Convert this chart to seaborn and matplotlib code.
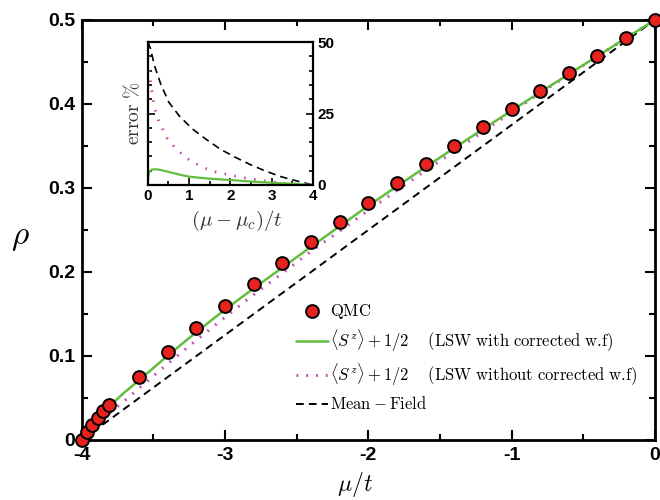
import matplotlib
matplotlib.use("Agg")
import matplotlib.pyplot as plt
import seaborn as sns
from matplotlib.ticker import MultipleLocator

# QMC data (mu/t, rho)
qmc_mu = [-4.0, -3.965, -3.93, -3.89, -3.85, -3.81, -3.6, -3.4, -3.2, -3.0,
          -2.8, -2.6, -2.4, -2.2, -2.0, -1.8, -1.6, -1.4, -1.2, -1.0,
          -0.8, -0.6, -0.4, -0.2, 0.0]
qmc_rho = [0.0, 0.0099, 0.018, 0.026, 0.034, 0.042, 0.0746, 0.105, 0.1333, 0.1599,
           0.1857, 0.2103, 0.2353, 0.2591, 0.2825, 0.3056, 0.3282, 0.350, 0.3722, 0.394,
           0.4158, 0.4365, 0.4575, 0.479, 0.5]

# LSW curves
lsw_mu = [-4.0, -3.98, -3.95, -3.9, -3.85, -3.8, -3.7, -3.6, -3.4, -3.2, -3.0,
          -2.8, -2.6, -2.4, -2.2, -2.0, -1.8, -1.6, -1.4, -1.2, -1.0,
          -0.8, -0.6, -0.4, -0.2, 0.0]
lsw_corr = [0.0, 0.0053, 0.0125, 0.0225, 0.0325, 0.0415, 0.057, 0.0712, 0.1005, 0.1285, 0.1553,
            0.1805, 0.2052, 0.230, 0.2545, 0.2788, 0.302, 0.325, 0.3475, 0.370, 0.392,
            0.414, 0.4355, 0.457, 0.4785, 0.5]
lsw_nocorr = [0.0, 0.0033, 0.0079, 0.017, 0.025, 0.0332, 0.047, 0.0616, 0.0908, 0.1189, 0.1462,
              0.1731, 0.1985, 0.2245, 0.2487, 0.2732, 0.297, 0.3207, 0.3437, 0.367, 0.390,
              0.4129, 0.4348, 0.4566, 0.4785, 0.5]

# mean field
mf_mu = [-4.0, 0.0]
mf_rho = [0.0, 0.5]

# inset: error % vs (mu - mu_c)/t
err_mf_x = [0.0, 0.06, 0.16, 0.32, 0.51, 0.77, 1.08, 1.41, 1.76, 2.12, 2.49, 2.85, 3.23, 3.64, 4.0]
err_mf = [50.0, 47.9, 41.8, 35.0, 28.9, 24.0, 19.6, 16.0, 12.5, 9.7, 7.1, 4.9, 2.9, 1.3, 0.0]

err_nc_x = [0.02, 0.06, 0.1, 0.15, 0.21, 0.27, 0.36, 0.44, 0.55, 0.68, 0.85, 1.0, 1.2, 1.4,
            1.7, 2.0, 2.3, 2.6, 3.0, 3.3, 3.6, 3.9]
err_nc = [40.0, 36.5, 32.5, 27.4, 24.7, 22.1, 19.5, 16.9, 14.8, 12.8, 10.5, 8.8, 7.2, 5.8,
          4.3, 3.5, 2.6, 1.9, 1.1, 0.6, 0.3, 0.05]

err_c_x = [0.0, 0.01, 0.04, 0.1, 0.2, 0.3, 0.5, 0.75, 1.0, 1.5, 2.0, 2.5, 3.0, 3.5, 4.0]
err_c = [0.0, 3.0, 4.8, 5.4, 5.5, 5.3, 4.6, 3.7, 2.9, 2.2, 1.75, 1.2, 0.8, 0.4, 0.0]

GREEN = "#62be3e"
MAGENTA = "#c24fb5"

sns.set_theme(style="ticks")
plt.rcParams["font.family"] = ["Liberation Sans", "DejaVu Sans"]
plt.rcParams["mathtext.fontset"] = "cm"
for key in ["text.color", "axes.labelcolor", "xtick.color", "ytick.color",
            "axes.edgecolor"]:
    plt.rcParams[key] = "black"

fig = plt.figure(figsize=(6.6, 5.0), dpi=100)
ax = fig.add_axes([0.124, 0.12, 0.868, 0.84])

sns.lineplot(x=mf_mu, y=mf_rho, ax=ax, color="black", lw=1.4,
             estimator=None, sort=False)
l_mf = ax.lines[-1]
l_mf.set_dashes((4, 2.6))
sns.lineplot(x=lsw_mu, y=lsw_nocorr, ax=ax, color=MAGENTA, lw=2.2,
             estimator=None, sort=False)
l_nc = ax.lines[-1]
l_nc.set_linestyle((0, (0.6, 2.6)))
sns.lineplot(x=lsw_mu, y=lsw_corr, ax=ax, color=GREEN, lw=1.8,
             estimator=None, sort=False)
l_c = ax.lines[-1]
sns.scatterplot(x=qmc_mu, y=qmc_rho, ax=ax, color="#e8231e", edgecolor="black",
                linewidth=1.4, s=85, zorder=5, clip_on=False)
sc = ax.collections[-1]

ax.set_xlim(-4, 0)
ax.set_ylim(0, 0.5)
ax.xaxis.set_minor_locator(MultipleLocator(0.5))
ax.yaxis.set_minor_locator(MultipleLocator(0.05))
ax.set_xticks([-4, -3, -2, -1, 0])
ax.set_xticklabels(["-4", "-3", "-2", "-1", "0"])
ax.set_yticks([0, 0.1, 0.2, 0.3, 0.4, 0.5])
ax.set_yticklabels(["0", "0.1", "0.2", "0.3", "0.4", "0.5"])
ax.tick_params(which="both", direction="in", top=True, right=True, width=1.5)
ax.tick_params(which="major", length=7, labelsize=14, pad=5)
ax.tick_params(which="minor", length=4)
for lab in ax.get_xticklabels() + ax.get_yticklabels():
    lab.set_fontweight("bold")
for sp in ax.spines.values():
    sp.set_linewidth(2)

ax.set_xlabel(r"$\mu/t$", fontsize=17)
ax.xaxis.set_label_coords(0.476, -0.072)
ax.set_ylabel(r"$\rho$", fontsize=24, rotation=0)
ax.yaxis.set_label_coords(-0.107, 0.445)

labels = [r"$\mathrm{QMC}$",
          r"$\langle S^z\rangle + 1/2\quad\ \mathrm{(LSW\ with\ corrected\ w.\!f)}$",
          r"$\langle S^z\rangle + 1/2\quad\ \mathrm{(LSW\ without\ corrected\ w.\!f)}$",
          r"$\mathrm{Mean}-\mathrm{Field}$"]
ax.legend([sc, l_c, l_nc, l_mf], labels, loc="upper left",
          bbox_to_anchor=(0.362, 0.345), frameon=False, fontsize=12,
          handlelength=1.9, handletextpad=0.15, labelspacing=0.45,
          borderaxespad=0)

# inset
ins = fig.add_axes([0.224, 0.63, 0.25, 0.286])
sns.lineplot(x=err_mf_x, y=err_mf, ax=ins, color="black", lw=1.2,
             estimator=None, sort=False)
ins.lines[-1].set_dashes((4.5, 3))
sns.lineplot(x=err_nc_x, y=err_nc, ax=ins, color=MAGENTA, lw=2.0,
             estimator=None, sort=False)
ins.lines[-1].set_linestyle((0, (0.6, 3)))
sns.lineplot(x=err_c_x, y=err_c, ax=ins, color=GREEN, lw=1.6,
             estimator=None, sort=False)
ins.set_xlim(0, 4)
ins.set_ylim(0, 50)
ins.xaxis.set_minor_locator(MultipleLocator(0.5))
ins.yaxis.set_minor_locator(MultipleLocator(5))
ins.yaxis.tick_right()
ins.tick_params(which="both", direction="in", left=True, right=True,
                top=False, width=1.2)
ins.tick_params(which="major", length=5, labelsize=11, pad=3)
ins.tick_params(which="minor", length=3)
ins.set_xticks([0, 1, 2, 3, 4])
ins.set_xticklabels(["0", "1", "2", "3", "4"])
ins.set_yticks([0, 25, 50])
ins.set_yticklabels(["0", "25", "50"])
for lab in ins.get_xticklabels() + ins.get_yticklabels():
    lab.set_fontweight("bold")
for sp in ins.spines.values():
    sp.set_linewidth(1.6)
ins.set_xlabel(r"$(\mu-\mu_c)/t$", fontsize=15, color="#333333")
ins.xaxis.set_label_coords(0.54, -0.165)
ins.set_ylabel(r"$\mathrm{error\ \%}$", fontsize=14, color="#333333", labelpad=3)
ins.yaxis.set_label_position("left")

fig.savefig("out.png", dpi=100)
